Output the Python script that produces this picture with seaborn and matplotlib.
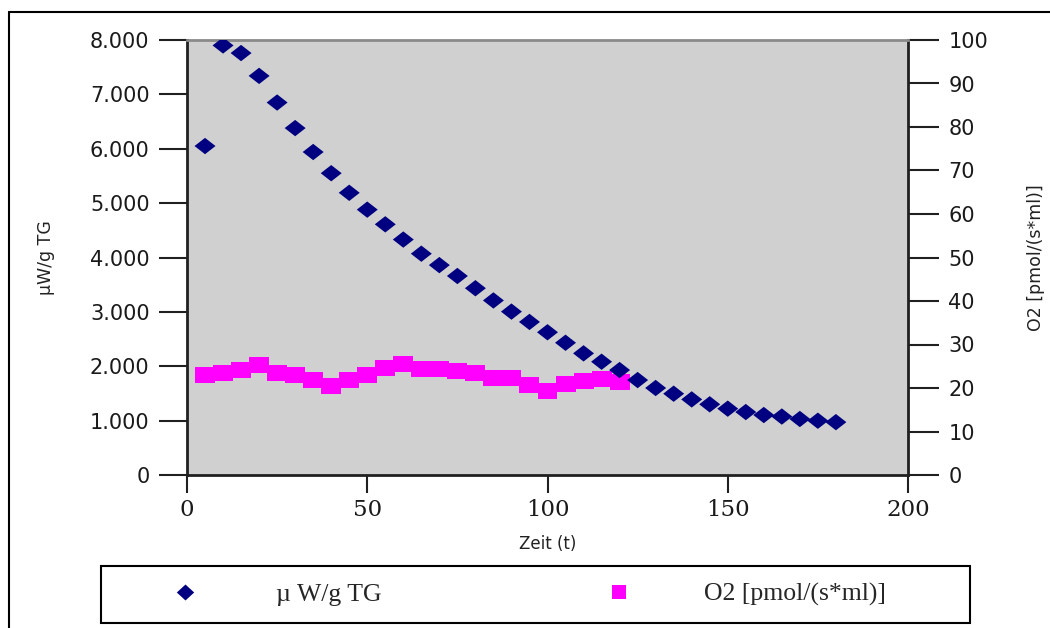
import matplotlib
matplotlib.use("Agg")
import matplotlib.pyplot as plt
import seaborn as sns
import pandas as pd
from matplotlib.lines import Line2D
from matplotlib.patches import Rectangle

# ---------------- data ----------------
zeit_w = [5, 10, 15, 20, 25, 30, 35, 40, 45, 50, 55, 60, 65, 70, 75, 80, 85, 90,
          95, 100, 105, 110, 115, 120, 125, 130, 135, 140, 145, 150, 155, 160,
          165, 170, 175, 180]
uw_g_tg = [6050, 7900, 7760, 7340, 6850, 6380, 5940, 5550, 5190, 4880, 4610, 4330,
           4070, 3860, 3660, 3435, 3210, 3005, 2815, 2625, 2432, 2237, 2083, 1930,
           1746, 1600, 1495, 1390, 1300, 1220, 1158, 1103, 1075, 1030, 998, 972]
zeit_o2 = [5, 10, 15, 20, 25, 30, 35, 40, 45, 50, 55, 60, 65, 70, 75, 80, 85, 90,
           95, 100, 105, 110, 115, 120]
o2_flux = [23.1, 23.5, 24.1, 25.2, 23.5, 23.1, 21.8, 20.4, 21.8, 23.1, 24.5, 25.6,
           24.3, 24.3, 24.0, 23.5, 22.2, 22.2, 20.8, 19.4, 21.0, 21.6, 22.1, 21.4]

x_ticks = [0, 50, 100, 150, 200]
x_ticklabels = ["0", "50", "100", "150", "200"]
y_ticks = [0, 1000, 2000, 3000, 4000, 5000, 6000, 7000, 8000]
y_ticklabels = ["0", "1.000", "2.000", "3.000", "4.000", "5.000", "6.000", "7.000", "8.000"]
y2_ticks = [0, 10, 20, 30, 40, 50, 60, 70, 80, 90, 100]
y2_ticklabels = ["0", "10", "20", "30", "40", "50", "60", "70", "80", "90", "100"]

label_w = "µW/g TG"
label_o2 = "O2 [pmol/(s*ml)]"
legend_w = "µ W/g TG"
legend_o2 = "O2 [pmol/(s*ml)]"
x_label = "Zeit (t)"

df_w = pd.DataFrame({"zeit": zeit_w, "wert": uw_g_tg})
df_o2 = pd.DataFrame({"zeit": zeit_o2, "wert": o2_flux})

# ---------------- style ----------------
sns.set_style("ticks")
plt.rcParams["font.family"] = ["DejaVu Sans"]

W, H = 1050, 628
fig = plt.figure(figsize=(W / 100, H / 100), dpi=100)
ax = fig.add_axes([187 / W, 1 - 475 / H, 721 / W, 435 / H])
ax2 = ax.twinx()

navy = "#000080"
magenta = "#FF00FF"
bg = "#D0D0D0"

diamond = [(-1, 0), (0, 0.78), (1, 0), (0, -0.78), (-1, 0)]
diamond_leg = [(-1, 0), (0, 0.92), (1, 0), (0, -0.92), (-1, 0)]
rect = [(-1, -0.8), (1, -0.8), (1, 0.8), (-1, 0.8), (-1, -0.8)]

sns.scatterplot(data=df_w, x="zeit", y="wert", ax=ax, marker=diamond, s=228,
                color=navy, edgecolor="none", linewidth=0, legend=False, zorder=3)
sns.scatterplot(data=df_o2, x="zeit", y="wert", ax=ax2, marker=rect, s=207,
                color=magenta, edgecolor="none", linewidth=0, legend=False, zorder=3)

# layering: primary axes (diamonds) above the twin
ax.set_zorder(2)
ax2.set_zorder(1)
ax.patch.set_visible(False)
ax2.patch.set_visible(True)
ax2.patch.set_facecolor(bg)

ax.set_xlim(0, 200)
ax.set_ylim(0, 8000)
ax2.set_ylim(0, 100)

ax.set_xticks(x_ticks)
ax.set_xticklabels(x_ticklabels, fontfamily="DejaVu Serif", fontsize=16.5)
ax.set_yticks(y_ticks)
ax.set_yticklabels(y_ticklabels, fontsize=15)
ax2.set_yticks(y2_ticks)
ax2.set_yticklabels(y2_ticklabels, fontsize=15)

tick_col = "#202020"
ax.tick_params(axis="y", length=20, width=1.5, pad=7, color=tick_col, labelcolor="#1a1a1a")
ax.tick_params(axis="x", length=13, width=1.5, pad=4, color=tick_col, labelcolor="#1a1a1a")
ax2.tick_params(axis="y", length=22, width=1.5, pad=7, color=tick_col, labelcolor="#1a1a1a")

for s in ["left", "bottom"]:
    ax.spines[s].set_color("#202020")
    ax.spines[s].set_linewidth(2)
ax.spines["top"].set_visible(True)
ax.spines["top"].set_color("#8a8a8a")
ax.spines["top"].set_linewidth(2)
ax.spines["right"].set_visible(False)
for s in ["left", "bottom", "top"]:
    ax2.spines[s].set_visible(False)
ax2.spines["right"].set_visible(True)
ax2.spines["right"].set_color("#202020")
ax2.spines["right"].set_linewidth(2)

ax.set_xlabel(x_label, fontsize=12, color="#222222")
ax.xaxis.set_label_coords(0.5, -0.138)
ax.set_ylabel(label_w, fontsize=12.5, color="#222222")
ax.yaxis.set_label_coords(-0.183, 0.5)
ax2.set_ylabel(label_o2, fontsize=12.5, color="#222222")
ax2.yaxis.set_label_coords(1.165, 0.5)

# ---------------- legend ----------------
h_w = Line2D([], [], marker=diamond_leg, linestyle="none", color=navy, markersize=12.5,
             markeredgewidth=0)
h_o2 = Line2D([], [], marker="s", linestyle="none", color=magenta, markersize=10.5,
              markeredgewidth=0)
yc = 1 - 594.5 / H
fs = 18.5
fs_px = fs * 100 / 72
leg_font = {"family": "Liberation Serif", "size": fs}
x1 = 185 - fs_px
x2 = 619 - fs_px
pad1 = (276 - x1 - 2 * fs_px) / fs_px
pad2 = (704 - x2 - 2 * fs_px) / fs_px
leg1 = fig.legend([h_w], [legend_w], loc="center left", bbox_to_anchor=(x1 / W, yc),
                  bbox_transform=fig.transFigure, frameon=False, handlelength=2,
                  handletextpad=pad1, borderpad=0, borderaxespad=0, prop=leg_font)
leg2 = fig.legend([h_o2], [legend_o2], loc="center left", bbox_to_anchor=(x2 / W, yc),
                  bbox_transform=fig.transFigure, frameon=False, handlelength=2,
                  handletextpad=pad2, borderpad=0, borderaxespad=0, prop=leg_font)

fig.add_artist(Rectangle((101 / W, 1 - 623 / H), 869 / W, 57 / H, transform=fig.transFigure,
                         fill=False, edgecolor="black", linewidth=1.5))

# outer chart border (left and top edges)
fig.add_artist(Line2D([9 / W, 9 / W], [0, 1 - 12 / H], transform=fig.transFigure,
                      color="black", linewidth=1.5))
fig.add_artist(Line2D([9 / W, 1], [1 - 12 / H, 1 - 12 / H], transform=fig.transFigure,
                      color="black", linewidth=1.5))

fig.savefig("out.png", dpi=100)
